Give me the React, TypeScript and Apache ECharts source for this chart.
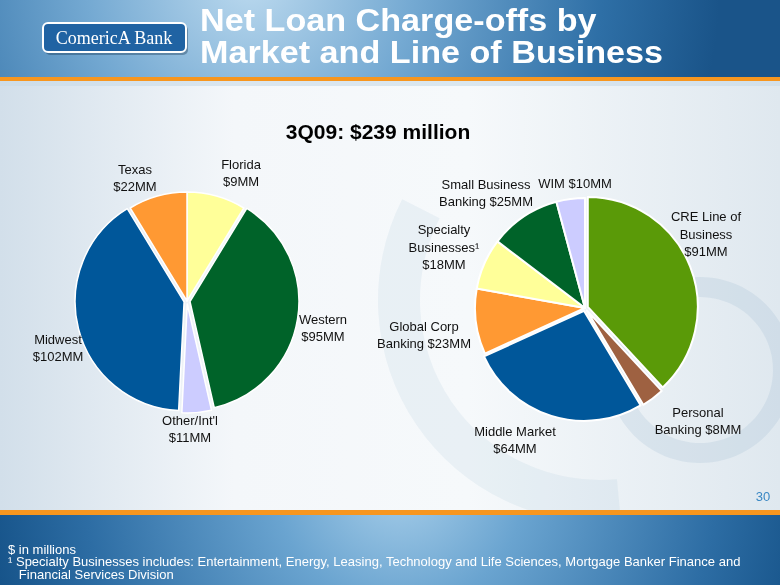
import React, { useEffect, useRef } from 'react';
import * as echarts from 'echarts';

// ---- Data ----
const marketNames = ['Florida', 'Western', "Other/Int'l", 'Midwest', 'Texas'];
const marketPrinted = [9, 95, 11, 102, 22]; // amounts printed in the labels ($MM)
const marketSlices = [22, 95, 11, 102, 22]; // slice sizes as drawn in the picture

const lobNames = ['CRE Line of\nBusiness', 'Personal\nBanking', 'Middle Market', 'Global Corp\nBanking', 'Specialty\nBusinesses\u00B9', 'Small Business\nBanking', 'WIM'];
const lobValues = [91, 8, 64, 23, 18, 25, 10];

const subtitle = '3Q09: $239 million';
const titleLines = ['Net Loan Charge-offs by', 'Market and Line of Business'];
const footLines = [
  '$ in millions',
  '\u00B9 Specialty Businesses includes: Entertainment, Energy, Leasing, Technology and Life Sciences, Mortgage Banker Finance and',
  '   Financial Services Division',
];
const pageNumber = '30';

// ---- Styles / layout ----
const FONT = '"Liberation Sans", Arial, sans-serif';
const marketColors = ['#FFFF99', '#006329', '#CCCCFF', '#00579A', '#FF9933'];
const marketExploded = [false, true, true, true, false];
const marketLabelPos = [[241, 173], [323, 328], [190, 429], [58, 348], [135, 178]];

const lobJoin = ['\n', ' ', '\n', ' ', '\n', ' ', ' '];
const lobColors = ['#5A9A08', '#9E6141', '#00579A', '#FF9933', '#FFFF99', '#006329', '#CCCCFF'];
const lobExploded = [true, true, true, false, false, false, false];
const lobLabelPos = [[706, 234], [698, 421], [515, 440], [424, 335], [444, 247], [486, 193], [575, 183]];

const labelText = (text: string, pos: number[]) => ({
  type: 'text',
  z: 10,
  x: pos[0],
  y: pos[1],
  style: {
    text,
    fill: '#111111',
    fontFamily: FONT,
    fontSize: 13,
    lineHeight: 17.5,
    align: 'center',
    verticalAlign: 'middle',
  },
});

export default function App() {
  const ref = useRef<HTMLDivElement>(null);

  useEffect(() => {
    if (!ref.current) return;
    const chart = echarts.init(ref.current, undefined, { renderer: 'svg' });

    const headerGrad = new echarts.graphic.RadialGradient(250, -20, 470, [
      { offset: 0, color: '#bcdaef' },
      { offset: 0.35, color: '#74a9d2' },
      { offset: 0.75, color: '#2e6fa6' },
      { offset: 1, color: '#1a5489' },
    ], true);
    const footerGrad = new echarts.graphic.RadialGradient(400, 480, 420, [
      { offset: 0, color: '#a8cfea' },
      { offset: 0.3, color: '#6aa4d0' },
      { offset: 0.75, color: '#2d6da4' },
      { offset: 1, color: '#155288' },
    ], true);
    const bgGrad = new echarts.graphic.LinearGradient(0, 0, 1, 0, [
      { offset: 0, color: '#d2dfea' },
      { offset: 0.3, color: '#f4f7fa' },
      { offset: 0.6, color: '#f6f9fb' },
      { offset: 1, color: '#dfe8ef' },
    ]);

    const labels = [
      ...marketNames.map((n, i) => labelText(`${n}\n$${marketPrinted[i]}MM`, marketLabelPos[i])),
      ...lobNames.map((n, i) => labelText(`${n}${lobJoin[i]}$${lobValues[i]}MM`, lobLabelPos[i])),
    ];

    const elements: any[] = [
      { type: 'rect', z: -100, shape: { x: 0, y: 0, width: 780, height: 585 }, style: { fill: bgGrad } },
      // watermark "C" shapes
      { type: 'ring', z: -90, shape: { cx: 700, cy: 370, r: 93, r0: 73 }, style: { fill: 'rgba(150,182,206,0.2)' } },
      { type: 'sector', z: -90, shape: { cx: 600, cy: 300, r: 222, r0: 180, startAngle: Math.PI * 0.47, endAngle: Math.PI * 1.15, clockwise: true }, style: { fill: 'rgba(150,182,206,0.13)' } },
      // header
      { type: 'rect', z: -50, shape: { x: 0, y: 0, width: 780, height: 77 }, style: { fill: headerGrad } },
      { type: 'rect', z: -49, shape: { x: 0, y: 77, width: 780, height: 4 }, style: { fill: '#f7961f' } },
      { type: 'rect', z: -49, shape: { x: 0, y: 81, width: 780, height: 5 }, style: { fill: 'rgba(200,218,232,0.6)' } },
      // logo
      { type: 'rect', z: -40, shape: { x: 45, y: 25, width: 143, height: 30, r: 5 }, style: { fill: 'rgba(10,40,70,0.35)' } },
      { type: 'rect', z: -39, shape: { x: 43, y: 23, width: 143, height: 29, r: 5 }, style: { fill: '#2063a3', stroke: '#ffffff', lineWidth: 2 } },
      { type: 'text', z: -38, x: 114, y: 38, style: { text: 'ComericA Bank', fill: '#ffffff', fontFamily: '"Liberation Serif", "DejaVu Serif", serif', fontSize: 18, align: 'center', verticalAlign: 'middle' } },
      // title (two lines, slightly wide face)
      { type: 'text', x: 200, y: 5, scaleX: 1.12, style: { text: titleLines.join('\n'), fill: '#ffffff', fontFamily: FONT, fontWeight: 'bold', fontSize: 30.5, lineHeight: 32, align: 'left', verticalAlign: 'top' } },
      // subtitle
      { type: 'text', x: 378, y: 131, style: { text: subtitle, fill: '#000000', fontFamily: FONT, fontWeight: 'bold', fontSize: 21, align: 'center', verticalAlign: 'middle' } },
      // page number
      { type: 'text', x: 763, y: 496, style: { text: pageNumber, fill: '#3a88c4', fontFamily: FONT, fontSize: 13, align: 'center', verticalAlign: 'middle' } },
      // footer
      { type: 'rect', z: -50, shape: { x: 0, y: 510, width: 780, height: 5 }, style: { fill: '#f7961f' } },
      { type: 'rect', z: -50, shape: { x: 0, y: 515, width: 780, height: 70 }, style: { fill: footerGrad } },
      { type: 'text', x: 8, y: 543.5, scaleX: 1.085, style: { text: footLines.join('\n'), fill: '#ffffff', fontFamily: FONT, fontSize: 12, lineHeight: 12.5, align: 'left', verticalAlign: 'top' } },
      ...labels,
    ];

    const option: any = {
      animation: false,
      graphic: { elements },
      series: [
        {
          type: 'pie',
          center: [187, 301],
          radius: 109,
          startAngle: 90,
          clockwise: true,
          selectedMode: 'multiple',
          selectedOffset: 3,
          emphasis: { disabled: true },
          label: { show: false },
          labelLine: { show: false },
          itemStyle: { borderColor: '#ffffff', borderWidth: 1.5 },
          select: { itemStyle: { borderColor: '#ffffff', borderWidth: 1.5 }, label: { show: false } },
          data: marketNames.map((n, i) => ({
            name: n,
            value: marketSlices[i],
            selected: marketExploded[i],
            itemStyle: { color: marketColors[i] },
          })),
        },
        {
          type: 'pie',
          center: [585, 308],
          radius: 110,
          startAngle: 90,
          clockwise: true,
          selectedMode: 'multiple',
          selectedOffset: 3,
          emphasis: { disabled: true },
          label: { show: false },
          labelLine: { show: false },
          itemStyle: { borderColor: '#ffffff', borderWidth: 2 },
          select: { itemStyle: { borderColor: '#ffffff', borderWidth: 2 }, label: { show: false } },
          data: lobNames.map((n, i) => ({
            name: n.replace(/\n/g, ' '),
            value: lobValues[i],
            selected: lobExploded[i],
            itemStyle: { color: lobColors[i] },
          })),
        },
      ],
    };

    chart.setOption(option);
    return () => chart.dispose();
  }, []);

  return <div ref={ref} style={{ position: 'fixed', left: 0, top: 0, width: 780, height: 585 }} />;
}
